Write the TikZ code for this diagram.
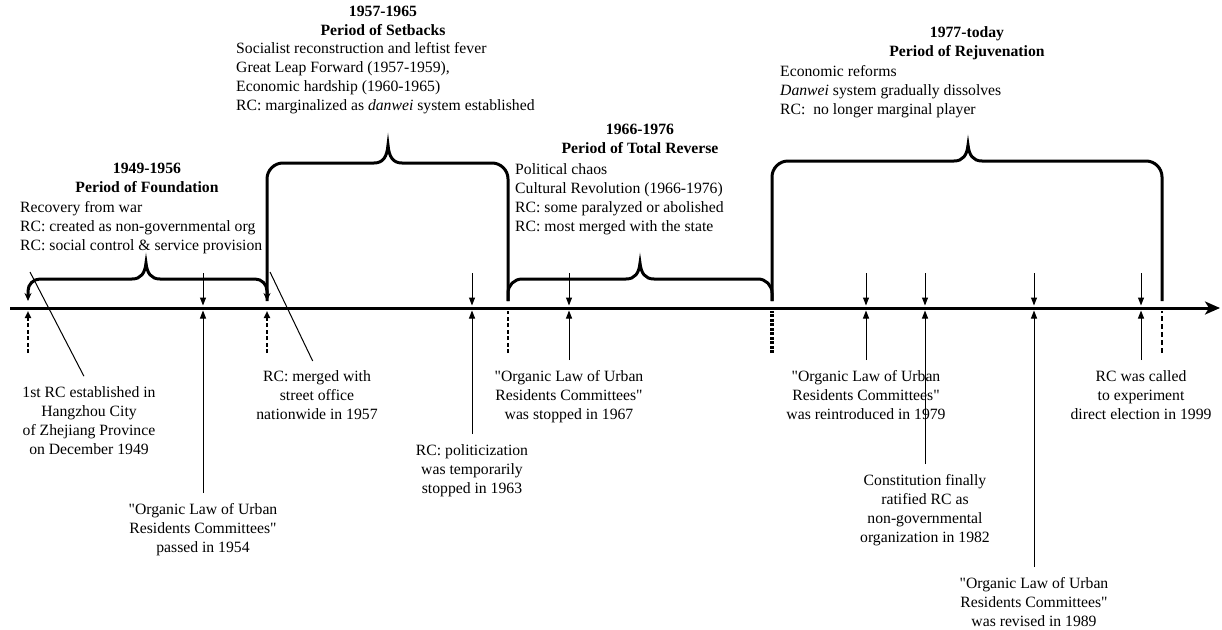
\documentclass[tikz,border=0pt]{standalone}
\usepackage{fontspec}
\setmainfont{Liberation Serif}[Ligatures=TeXOff]
\usetikzlibrary{arrows.meta}

% period bracket: #1 extra options, #2 left x, #3 right x, #4 cusp x,
% #5 top y, #6 cusp tip y, #7 corner radius (feet end at y = 301)
\newcommand{\periodbrace}[7]{%
  \draw[bracket,#1] (#2,301) -- (#2,#5+#7)
    .. controls (#2,#5+0.45*#7) and (#2+0.45*#7,#5) .. (#2+#7,#5)
    -- (#4-14,#5)
    .. controls (#4-5,#5) and (#4-1,#5-6) .. (#4,#6)
    .. controls (#4+1,#5-6) and (#4+5,#5) .. (#4+14,#5)
    -- (#3-#7,#5)
    .. controls (#3-0.45*#7,#5) and (#3,#5+0.45*#7) .. (#3,#5+#7)
    -- (#3,301);}

\begin{document}
\begin{tikzpicture}[x=1pt,y=-1pt,
  txt/.style={inner sep=0pt, font=\fontsize{15.7}{19.2}\selectfont},
  lbl/.style={txt, align=center, anchor=north},
  head/.style={inner sep=0pt, align=center, anchor=north,
    font=\fontsize{15.7}{19.2}\selectfont\bfseries},
  body/.style={txt, align=left, anchor=north west},
  axisline/.style={line width=3pt, -{Stealth[length=15pt,width=13pt,inset=4pt]}},
  bracket/.style={line width=3pt},
  endtip/.style={{Stealth[length=8pt,width=7pt]}-{Stealth[length=8pt,width=7pt]}},
  marker/.style={line width=1pt, -{Triangle[length=8pt,width=6pt]}},
  pointer/.style={line width=1pt},
  boundary/.style={line width=2pt, dash pattern=on 4pt off 2.5pt},
  heavyboundary/.style={line width=3.5pt, dash pattern=on 3pt off 1.5pt},
  lightboundary/.style={line width=1.5pt, dash pattern=on 5pt off 3pt},
  uptip/.style={-{Triangle[length=7pt,width=6pt]}},
]
\useasboundingbox (0,0) rectangle (1222,629);

% time axis
\coordinate (ax0) at (10,308);
\coordinate (ax1) at (1220,308);
\draw[axisline] (ax0) -- (ax1);

% period boundaries below the axis
\coordinate (b1) at (28,308);   \coordinate (b1d) at (28,353);
\coordinate (b2) at (267,308);  \coordinate (b2d) at (267,353);
\coordinate (b3) at (508,308);  \coordinate (b3d) at (508,353);
\coordinate (b4) at (772,308);  \coordinate (b4d) at (772,353);
\coordinate (b5) at (1162,308); \coordinate (b5d) at (1162,353);
\draw[boundary, uptip, shorten >=3pt] (b1d) -- (b1);
\draw[boundary, uptip, shorten >=3pt] (b2d) -- (b2);
\draw[boundary, shorten >=3pt] (b3d) -- (b3);
\draw[heavyboundary, shorten >=3pt] (b4d) -- (b4);
\draw[lightboundary, shorten >=3pt] (b5d) -- (b5);

% period brackets
\periodbrace{endtip}{28}{267}{146}{279}{263}{12}
\periodbrace{}{267}{508}{388}{163}{145}{16}
\periodbrace{}{508}{772}{640}{279}{263}{14}
\periodbrace{}{772}{1162}{968}{161}{145}{16}

% period headings and descriptions
\node[head] (h1) at (147,163) {1949-1956\\Period of Foundation};
\node[body] (d1) at (20,201) {Recovery from war\\RC: created as non-governmental org\\RC: social control \& service provision};
\node[head] (h2) at (383,6) {1957-1965\\Period of Setbacks};
\node[body] (d2) at (236,42) {Socialist reconstruction and leftist fever\\Great Leap Forward (1957-1959),\\Economic hardship (1960-1965)\\RC: marginalized as \textit{danwei} system established};
\node[head] (h3) at (640,124) {1966-1976\\Period of Total Reverse};
\node[body] (d3) at (515,163) {Political chaos\\Cultural Revolution (1966-1976)\\RC: some paralyzed or abolished\\RC: most merged with the state};
\node[head] (h4) at (967,26) {1977-today\\Period of Rejuvenation};
\node[body] (d4) at (780,65) {Economic reforms\\\textit{Danwei} system gradually dissolves\\RC:~ no longer marginal player};

% events on the axis
\foreach \n/\x in {e54/203, e63/472, e67/569, e79/866, e82/925, e89/1034, e99/1141} {
  \coordinate (\n) at (\x,308);
  \coordinate (t\n) at (\x,273);
}

% event labels
\node[lbl] (l49) at (89,386) {1st RC established in\\Hangzhou City\\of Zhejiang Province\\on December 1949};
\node[lbl] (le54) at (203,503) {"Organic Law of Urban\\Residents Committees"\\passed in 1954};
\node[lbl] (l57) at (317,370) {RC: merged with\\street office\\nationwide in 1957};
\node[lbl] (le63) at (472,444) {RC: politicization\\was temporarily\\stopped in 1963};
\node[lbl] (le67) at (569,370) {"Organic Law of Urban\\Residents Committees"\\was stopped in 1967};
\node[lbl] (le79) at (866,370) {"Organic Law of Urban\\Residents Committees"\\was reintroduced in 1979};
\node[lbl] (le82) at (925,474) {Constitution finally\\ratified RC as\\non-governmental\\organization in 1982};
\node[lbl] (le89) at (1034,577) {"Organic Law of Urban\\Residents Committees"\\was revised in 1989};
\node[lbl] (le99) at (1141,370) {RC was called\\to experiment\\direct election in 1999};

% event markers: arrows from above and from the label
\foreach \n in {e54, e63, e67, e79, e82, e89, e99} {
  \draw[marker, shorten >=2.5pt] (t\n) -- (\n);
  \draw[marker, shorten <=10pt, shorten >=2.5pt] (\n |- l\n.north) -- (\n);
}

% slanted pointers to the boundary labels
\coordinate (p49) at (30,272);
\coordinate (p57) at (270,272);
\draw[pointer, shorten <=11pt] (l49.north) -- (p49);
\draw[pointer, shorten <=10pt] (l57.north) -- (p57);
\end{tikzpicture}
\end{document}
